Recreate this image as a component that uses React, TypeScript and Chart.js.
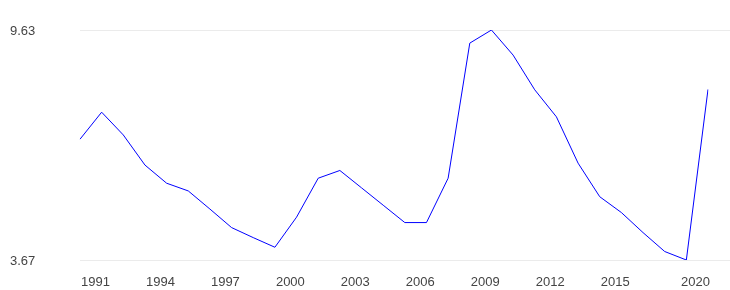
import React, { useEffect, useRef } from "react";
import { Chart, registerables } from "chart.js";

Chart.register(...registerables);

const years: string[] = [
  "1991", "1992", "1993", "1994", "1995", "1996", "1997", "1998", "1999", "2000",
  "2001", "2002", "2003", "2004", "2005", "2006", "2007", "2008", "2009", "2010",
  "2011", "2012", "2013", "2014", "2015", "2016", "2017", "2018", "2019", "2020",
];

const values: number[] = [
  6.8, 7.5, 6.91, 6.13, 5.66, 5.46, 4.99, 4.51, 4.25, 4.0,
  4.78, 5.79, 5.99, 5.54, 5.09, 4.64, 4.64, 5.79, 9.29, 9.63,
  8.98, 8.08, 7.38, 6.18, 5.31, 4.9, 4.38, 3.89, 3.67, 8.09,
];

const yTicks: number[] = [3.67, 9.63];
const yTickLabels: string[] = ["3.67", "9.63"];
const xTickLabels: string[] = ["1991", "1994", "1997", "2000", "2003", "2006", "2009", "2012", "2015", "2020"];

const FONT = '13px "Liberation Sans", Arial, sans-serif';
const TEXT = "#444444";

const axesPlugin = {
  id: "customAxes",
  beforeDatasetsDraw(chart: any) {
    const { ctx, chartArea, scales } = chart;
    ctx.save();
    ctx.strokeStyle = "#ebebeb";
    ctx.lineWidth = 1;
    yTicks.forEach((v) => {
      const y = Math.round(scales.y.getPixelForValue(v)) + 0.5;
      ctx.beginPath();
      ctx.moveTo(chartArea.left, y);
      ctx.lineTo(chart.width, y);
      ctx.stroke();
    });
    ctx.restore();
  },
  afterDraw(chart: any) {
    const { ctx, chartArea, scales } = chart;
    ctx.save();
    ctx.font = FONT;
    ctx.fillStyle = TEXT;
    ctx.textBaseline = "middle";
    ctx.textAlign = "left";
    yTicks.forEach((v, i) => {
      const y = scales.y.getPixelForValue(v) + 1;
      ctx.fillText(yTickLabels[i], 10, y);
    });
    ctx.textBaseline = "alphabetic";
    xTickLabels.forEach((lab, i) => {
      const idx = years.indexOf(lab);
      const x = scales.x.getPixelForValue(idx);
      const last = i === xTickLabels.length - 1;
      ctx.textAlign = last ? "right" : "left";
      ctx.fillText(lab, last ? x + 2 : x + 1, chartArea.bottom + 26);
    });
    ctx.restore();
  },
};

export default function App() {
  const ref = useRef<HTMLCanvasElement | null>(null);
  useEffect(() => {
    if (!ref.current) return;
    const chart = new Chart(ref.current, {
      type: "line",
      data: {
        labels: years,
        datasets: [
          {
            data: values,
            borderColor: "#0000ff",
            borderWidth: 1,
            pointRadius: 0,
            tension: 0,
            fill: false,
          },
        ],
      },
      options: {
        animation: false,
        responsive: false,
        maintainAspectRatio: false,
        layout: { padding: { left: 80, right: 22, top: 30, bottom: 30 } },
        plugins: { legend: { display: false }, tooltip: { enabled: false } },
        scales: {
          x: { type: "category", display: false, offset: false },
          y: { display: false, min: 3.67, max: 9.63 },
        },
      },
      plugins: [axesPlugin],
    });
    return () => chart.destroy();
  }, []);
  return (
    <div style={{ position: "fixed", left: 0, top: 0, width: 730, height: 290, background: "#fff" }}>
      <canvas ref={ref} width={730} height={290} style={{ display: "block" }} />
    </div>
  );
}
